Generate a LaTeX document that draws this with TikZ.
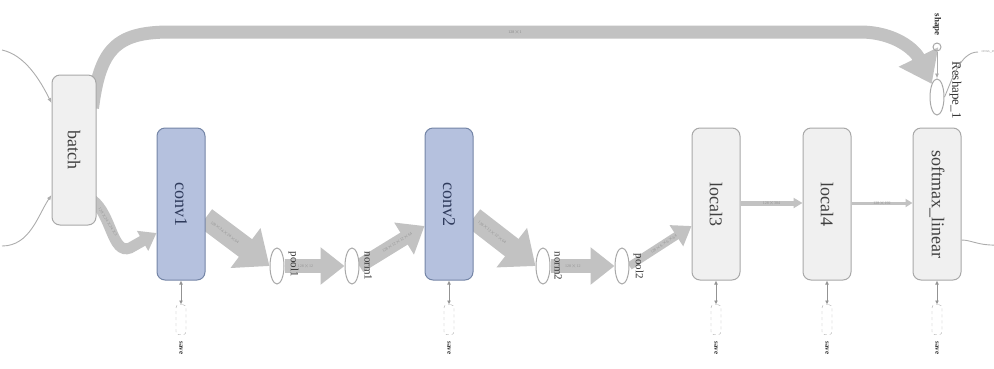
\documentclass[tikz,border=0pt]{standalone}
\usepackage{fontspec}
\setmainfont{Liberation Serif}
\usetikzlibrary{arrows.meta,positioning,shapes.geometric}

\definecolor{opfill}{HTML}{F0F0F0}
\definecolor{opline}{HTML}{A8A8A8}
\definecolor{convfill}{HTML}{B5C1DE}
\definecolor{convline}{HTML}{7485A6}
\definecolor{convtext}{HTML}{2F3B5C}
\definecolor{flow}{HTML}{C2C2C2}

\pgfdeclarelayer{background}
\pgfsetlayers{background,main}

\tikzset{
  opbox/.style={draw=opline, fill=opfill, line width=1pt, rounded corners=8pt,
    minimum width=48pt, minimum height=152pt, inner sep=0pt,
    font=\fontsize{18}{20}\selectfont, text=black!75},
  convbox/.style={opbox, draw=convline, fill=convfill, text=convtext},
  opoval/.style={ellipse, draw=opline, fill=white, line width=1pt,
    minimum width=14pt, minimum height=36pt, inner sep=0pt},
  savebox/.style={draw=opline, dashed, rounded corners=3pt, fill=white,
    minimum width=10pt, minimum height=30pt, inner sep=0pt},
  savelink/.style={draw=gray!85, line width=1pt,
    {Latex[length=4pt,width=4pt]}-{Latex[length=4pt,width=4pt]}},
  thin/.style={draw=gray!65, line width=0.9pt, -{Latex[length=5pt,width=4pt]}},
  tensor/.style={draw=flow, line cap=butt},
  shapelbl/.style={font=\fontsize{4}{4}\selectfont, text=gray!85, sloped},
  oplbl/.style={font=\fontsize{11}{12}\selectfont, text=black!80}
}

\begin{document}
\begin{tikzpicture}[x=1pt, y=-1pt]
  \useasboundingbox (0,0) rectangle (994,368);
  \clip (0,0) rectangle (994,368);

  % main ops
  \node[opbox, minimum width=44pt, minimum height=150pt] (batch) at (74,150) {\rotatebox{-90}{batch}};
  \node[convbox] (conv1) at (181,204) {\rotatebox{-90}{conv1}};
  \node[convbox] (conv2) at (449,204) {\rotatebox{-90}{conv2}};
  \node[opbox] (local3) at (716,204) {\rotatebox{-90}{local3}};
  \node[opbox] (local4) at (827,204) {\rotatebox{-90}{local4}};
  \node[opbox] (softmax) at (937,204) {\rotatebox{-90}{softmax\_linear}};

  % pooling / norm ops
  \node[opoval] (pool1) at (277,266) {};
  \node[opoval] (norm1) at (352,266) {};
  \node[opoval] (norm2) at (543,266) {};
  \node[opoval] (pool2) at (622,266) {};
  \node[oplbl, anchor=north west] at (285,248) {\rotatebox{-90}{pool1}};
  \node[oplbl, anchor=north west] at (361,248) {\rotatebox{-90}{norm1}};
  \node[oplbl, anchor=north west] at (551,248) {\rotatebox{-90}{norm2}};
  \node[oplbl, anchor=north west] at (630,250) {\rotatebox{-90}{pool2}};

  % reshape at the top right
  \node[opoval] (reshape) at (937,97) {};
  \node[circle, draw=opline, line width=1pt, minimum size=8pt, inner sep=0pt] (shape) at (937,47) {};
  \node[font=\fontsize{9}{9}\selectfont\bfseries, text=black!80, above=3pt of shape] {\rotatebox{-90}{shape}};
  \node[oplbl, font=\fontsize{13}{14}\selectfont, anchor=north west] at (946,58) {\rotatebox{-90}{Reshape\_1}};
  \draw[thin] (shape) -- (reshape);

  % save nodes under each layer
  \foreach \n in {conv1,conv2,local3,local4,softmax} {
    \node[savebox, below=24pt of \n] (\n-save) {};
    \draw[savelink] (\n) -- (\n-save);
    \node[font=\fontsize{7}{7}\selectfont\bfseries, text=black!80, below=3pt of \n-save] {\rotatebox{-90}{save}};
  }

  % inputs of batch
  \coordinate (in1) at (2,50);
  \coordinate (in2) at (2,246);
  \draw[thin] (in1) .. controls (25,55) and (40,80) .. ([yshift=47pt]batch.west);
  \draw[thin] (in2) .. controls (30,246) and (38,215) .. ([yshift=-45pt]batch.west);

  % outputs to the right
  \coordinate (out1) at (978,52);
  \coordinate (out2) at (1000,245);
  \draw[thin, -] (reshape.east) .. controls (952,80) and (960,52) .. (out1);
  \node[font=\fontsize{4}{4}\selectfont, text=gray!80, anchor=west] at (out1) {cross\_entropy};
  \draw[thin, -] ([yshift=-36pt]softmax.east) .. controls (972,240) and (978,246) .. (out2);

  % tensor flow between ops
  \begin{pgfonlayer}{background}
  \draw[tensor, line width=13pt, -{Triangle[length=30pt,width=42pt]}]
    ([xshift=-4pt,yshift=42pt]batch.east) .. controls (100,50) and (115,32) .. (170,32)
    -- (860,32) node[midway, shapelbl, text=gray!95] {128$\times$1}
    .. controls (895,32) and (915,50) .. (reshape.north west);
  \draw[tensor, line width=11pt, -{Triangle[length=16pt,width=22pt]}]
    ([xshift=-4pt,yshift=-50pt]batch.east) .. controls (112,215) and (112,255) .. (130,248)
    -- ([yshift=-29pt]conv1.west);
  \node[shapelbl, rotate=-58] at (108,222) {128$\times$24$\times$24$\times$3};
  \draw[tensor, line width=22pt, -{Triangle[length=30pt,width=48pt]}]
    ([yshift=-14pt]conv1.east) -- (pool1.west) node[pos=0.3, shapelbl] {128$\times$24$\times$24$\times$64};
  \draw[tensor, line width=14pt, -{Triangle[length=24pt,width=36pt]}]
    (pool1.east) -- (norm1.west) node[pos=0.35, shapelbl] {128$\times$12};
  \draw[tensor, line width=14pt, -{Triangle[length=24pt,width=36pt]}]
    (norm1.east) -- ([yshift=-22pt]conv2.west) node[pos=0.58, shapelbl] {128$\times$12$\times$12$\times$64};
  \draw[tensor, line width=22pt, -{Triangle[length=30pt,width=48pt]}]
    ([yshift=-14pt]conv2.east) -- (norm2.west) node[pos=0.3, shapelbl] {128$\times$12$\times$12$\times$64};
  \draw[tensor, line width=14pt, -{Triangle[length=24pt,width=36pt]}]
    (norm2.east) -- (pool2.west) node[pos=0.35, shapelbl] {128$\times$12};
  \draw[tensor, line width=8pt, -{Triangle[length=18pt,width=24pt]}]
    (pool2.east) -- ([yshift=-22pt]local3.west) node[pos=0.55, shapelbl] {128$\times$6$\times$6$\times$64};
  \draw[tensor, line width=5pt, -{Triangle[length=9pt,width=10pt]}]
    ([yshift=1pt]local3.east) -- ([yshift=1pt]local4.west) node[midway, shapelbl] {128$\times$384};
  \draw[tensor, line width=3pt, -{Triangle[length=7pt,width=8pt]}]
    ([yshift=1pt]local4.east) -- ([yshift=1pt]softmax.west) node[midway, shapelbl] {128$\times$192};
  \end{pgfonlayer}
\end{tikzpicture}
\end{document}
